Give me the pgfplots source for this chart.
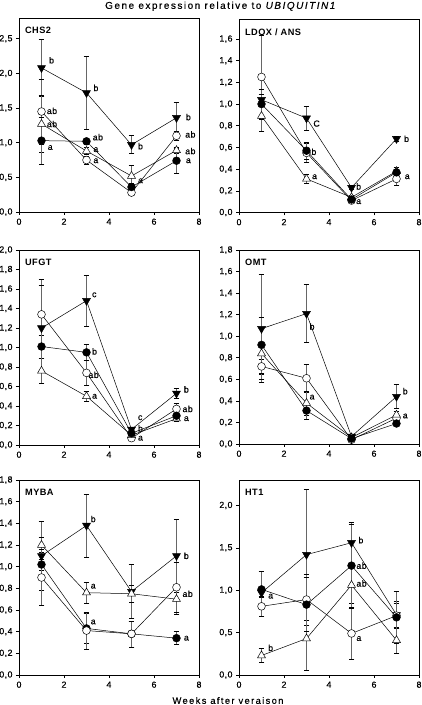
\documentclass[border=0pt]{standalone}
\usepackage{fontspec}
\setmainfont{Liberation Sans}
\newfontfamily\wide[LetterSpace=15,FakeBold=0.4]{Liberation Sans}
\newfontfamily\semi[LetterSpace=5,FakeBold=0.4]{Liberation Sans}
\newfontfamily\semib[LetterSpace=5]{Liberation Sans}
\usepackage{pgfplots}
\pgfplotsset{compat=1.18}
\pgfplotsset{
  panel/.style={
    scale only axis, width=180pt, anchor=south west,
    xmin=0, xmax=8, xtick={0,2,4,6,8}, ymin=0,
    axis line style={line width=0.6pt},
    tick pos=left, tick align=outside, major tick length=3pt,
    tick style={line width=0.6pt, black},
    tick label style={font=\semi\fontsize{8.8}{9}\selectfont},
    /pgf/number format/assume math mode=true,
    y tick label style={/pgf/number format/.cd, fixed, fixed zerofill, precision=1, use comma, assume math mode=true, /tikz/.cd},
    clip=false,
  },
  ser/.style={black, line width=0.5pt,
    error bars/y dir=both, error bars/y explicit,
    error bars/error bar style={line width=0.7pt, black!60},
    error bars/error mark options={rotate=90, mark size=2.9pt, line width=0.6pt, black}},
  fc/.style={ser, mark=*, mark size=3.9pt, mark options={fill=black, draw=black}},
  oc/.style={ser, mark=*, mark size=3.9pt, mark options={fill=white, draw=black}},
  dt/.style={ser, mark=triangle*, mark size=4.6pt, mark options={fill=black, draw=black, rotate=180}},
  ot/.style={ser, mark=triangle*, mark size=4.6pt, mark options={fill=white, draw=black}},
}
\newcommand\lab[3]{\node[anchor=west, inner sep=0pt, font=\semi\fontsize{8.8}{9}\selectfont] at (axis cs:#1,#2) {#3};}
\newcommand\ptitle[1]{\node[anchor=north west, inner sep=0pt, font=\semib\bfseries\fontsize{9.2}{10}\selectfont] at (rel axis cs:0.033,0.955) {#1};}
\begin{document}
\begin{tikzpicture}
\path[use as bounding box] (0,0) rectangle (422pt,705pt);

% ---------------- CHS2 ----------------
\begin{axis}[panel, at={(19pt,493pt)}, height=194pt, ymax=2.8, ytick={0,0.5,1,1.5,2,2.5}]
\addplot[dt] table[y error=e] {x y e
1 2.08 0.41
3 1.72 0.53
5 0.97 0.13
7 1.36 0.23
};
\addplot[oc] table[y error=e] {x y e
1 1.45 0.47
3 0.75 0.06
5 0.28 0.04
7 1.10 0.06
};
\addplot[ot] table[y error=e] {x y e
1 1.27 0.41
3 0.88 0.05
5 0.52 0.15
7 0.89 0.05
};
\addplot[fc] table[y error=e] {x y e
1 1.03 0.34
3 1.02 0.05
5 0.36 0.05
7 0.74 0.18
};
\ptitle{CHS2}
\lab{1.33}{2.19}{b}\lab{1.23}{1.46}{ab}\lab{1.23}{1.27}{ab}\lab{1.27}{0.93}{a}
\lab{3.3}{1.79}{b}\lab{3.27}{1.08}{ab}\lab{3.3}{0.90}{a}\lab{3.3}{0.74}{a}
\lab{5.28}{0.95}{b}\lab{5.28}{0.45}{a}
\lab{7.41}{1.37}{b}\lab{7.38}{1.12}{ab}\lab{7.38}{0.88}{ab}\lab{7.41}{0.74}{a}
\end{axis}

% ---------------- LDOX / ANS ----------------
\begin{axis}[panel, at={(239pt,492.5pt)}, height=193pt, ymax=1.78, ytick={0,0.2,...,1.6}]
\addplot[oc] table[y error=e] {x y e
1 1.25 0.38
3 0.55 0.09
5 0.11 0.02
7 0.31 0.06
};
\addplot[ot] table[y error=e] {x y e
1 0.89 0.14
3 0.31 0.04
5 0.14 0.02
7 0.38 0.04
};
\addplot[fc] table[y error=e] {x y e
1 1.00 0.14
3 0.57 0.08
5 0.12 0.02
7 0.37 0.03
};
\addplot[dt] table[y error=e] {x y e
1 1.04 0.05
3 0.87 0.11
5 0.23 0.02
7 0.68 0.02
};
\ptitle{LDOX / ANS}
\lab{3.3}{0.82}{C}\lab{3.21}{0.56}{b}\lab{3.24}{0.33}{a}
\lab{5.2}{0.24}{b}\lab{5.2}{0.10}{a}
\lab{7.33}{0.68}{b}\lab{7.36}{0.33}{a}
\end{axis}

% ---------------- UFGT ----------------
\begin{axis}[panel, at={(19pt,260pt)}, height=195pt, ymax=2.0, ytick={0,0.2,...,2.0}]
\addplot[oc] table[y error=e] {x y e
1 1.34 0.36
3 0.74 0.13
5 0.07 0.02
7 0.37 0.06
};
\addplot[ot] table[y error=e] {x y e
1 0.76 0.13
3 0.50 0.05
5 0.10 0.02
7 0.27 0.03
};
\addplot[fc] table[y error=e] {x y e
1 1.01 0.12
3 0.95 0.08
5 0.12 0.02
7 0.30 0.03
};
\addplot[dt] table[y error=e] {x y e
1 1.20 0.44
3 1.48 0.26
5 0.16 0.02
7 0.53 0.05
};
\ptitle{UFGT}
\lab{3.24}{1.54}{c}\lab{3.24}{0.96}{b}\lab{3.08}{0.72}{ab}\lab{3.24}{0.50}{a}
\lab{5.28}{0.28}{c}\lab{5.28}{0.17}{b}\lab{5.28}{0.07}{a}
\lab{7.32}{0.57}{b}\lab{7.26}{0.37}{ab}\lab{7.32}{0.27}{a}
\end{axis}

% ---------------- OMT ----------------
\begin{axis}[panel, at={(239pt,261pt)}, height=194pt, ymax=1.8, ytick={0,0.2,...,1.8}]
\addplot[dt] table[y error=e] {x y e
1 1.07 0.50
3 1.21 0.27
5 0.07 0.02
7 0.44 0.11
};
\addplot[oc] table[y error=e] {x y e
1 0.72 0.07
3 0.61 0.13
5 0.04 0.01
7 0.24 0.03
};
\addplot[ot] table[y error=e] {x y e
1 0.84 0.24
3 0.38 0.11
5 0.06 0.01
7 0.27 0.03
};
\addplot[fc] table[y error=e] {x y e
1 0.92 0.26
3 0.31 0.08
5 0.05 0.01
7 0.19 0.02
};
\ptitle{OMT}
\lab{3.13}{1.09}{b}\lab{3.13}{0.435}{a}
\lab{7.27}{0.49}{b}\lab{7.27}{0.26}{a}
\end{axis}

% ---------------- MYBA ----------------
\begin{axis}[panel, at={(19pt,30pt)}, height=195pt, ymax=1.8, ytick={0,0.2,...,1.8}]
\addplot[dt] table[y error=e] {x y e
1 1.10 0.32
3 1.38 0.29
5 0.77 0.25
7 1.10 0.34
};
\addplot[ot] table[y error=e] {x y e
1 1.20 0.07
3 0.76 0.10
5 0.75 0.08
7 0.70 0.14
};
\addplot[fc] table[y error=e] {x y e
1 1.02 0.05
3 0.43 0.14
5 0.38 0.12
7 0.34 0.06
};
\addplot[oc] table[y error=e] {x y e
1 0.90 0.26
3 0.41 0.17
5 0.38 0.12
7 0.81 0.23
};
\ptitle{MYBA}
\lab{3.18}{1.44}{b}\lab{3.18}{0.82}{a}\lab{3.18}{0.49}{a}
\lab{7.32}{1.10}{b}\lab{7.26}{0.75}{ab}\lab{7.32}{0.34}{a}
\end{axis}

% ---------------- HT1 ----------------
\begin{axis}[panel, at={(239pt,30pt)}, height=195pt, ymax=2.3, ytick={0,0.5,1,1.5,2}]
\addplot[dt] table[y error=e] {x y e
1 0.97 0.05
3 1.42 0.77
5 1.56 0.24
7 0.71 0.16
};
\addplot[ot] table[y error=e] {x y e
1 0.23 0.08
3 0.43 0.37
5 1.06 0.22
7 0.41 0.15
};
\addplot[oc] table[y error=e] {x y e
1 0.81 0.12
3 0.89 0.30
5 0.49 0.30
7 0.70 0.15
};
\addplot[fc] table[y error=e] {x y e
1 1.01 0.21
3 0.83 0.32
5 1.29 0.49
7 0.68 0.31
};
\ptitle{HT1}
\lab{1.29}{0.93}{a}\lab{1.29}{0.32}{b}
\lab{5.3}{1.59}{b}\lab{5.21}{1.29}{ab}\lab{5.21}{1.08}{ab}\lab{5.21}{0.43}{a}
\end{axis}

\node[font=\wide\fontsize{10}{12}\selectfont] at (221pt,698.7pt) {Gene expression relative to \textit{UBIQUITIN1}};
\node[font=\wide\fontsize{9.3}{11}\selectfont] at (228pt,4.5pt) {Weeks after veraison};
\end{tikzpicture}
\end{document}
